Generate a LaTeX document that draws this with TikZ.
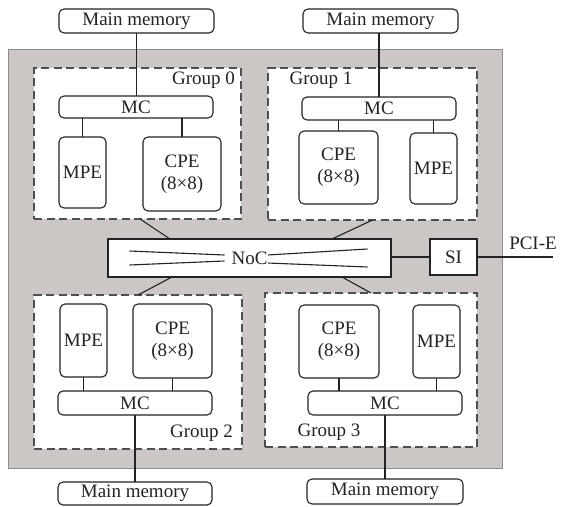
\documentclass[tikz,border=0pt]{standalone}
\usepackage{fontspec}
\setmainfont{Liberation Serif}
\usetikzlibrary{calc}
\definecolor{chip}{RGB}{204,199,196}
\definecolor{ink}{RGB}{35,35,35}
\begin{document}
\begin{tikzpicture}[x=1pt,y=-1pt,
  every node/.style={font=\fontsize{19}{22}\selectfont, text=ink, inner sep=0pt, outer sep=0pt},
  rbox/.style={draw=ink, fill=white, rounded corners=5pt, line width=1.1pt},
  sbox/.style={draw=ink, fill=white, line width=1.1pt},
  grp/.style={draw=ink!80, fill=white, dash pattern=on 8pt off 4.5pt, line width=1.1pt},
  wire/.style={draw=ink, line width=1.1pt}]
\useasboundingbox (0,0) rectangle (561,506);
% chip background
\node[fill=chip, draw=black!45, line width=1pt, minimum width=494pt, minimum height=419pt] (chip) at (255,258.5) {};
% groups
\node[grp, minimum width=207pt, minimum height=151pt] (G0) at (137.5,143.5) {};
\node[grp, minimum width=209pt, minimum height=152pt] (G1) at (372.5,144) {};
\node[grp, minimum width=208pt, minimum height=154pt] (G2) at (138,372) {};
\node[grp, minimum width=212pt, minimum height=154pt] (G3) at (371,370) {};
\node (L0) at (203.5,80) {Group 0};
\node (L1) at (321,80) {Group 1};
\node (L2) at (201.5,433) {Group 2};
\node (L3) at (329,432) {Group 3};
% main memories
\node[rbox, minimum width=155pt, minimum height=24pt] (MM0) at (136.5,21) {Main memory};
\node[rbox, minimum width=155pt, minimum height=24pt] (MM1) at (380.5,21) {Main memory};
\node[rbox, minimum width=154pt, minimum height=23pt] (MM2) at (135,493.5) {Main memory};
\node[rbox, minimum width=156pt, minimum height=25pt] (MM3) at (385,491.5) {Main memory};
% MCs
\node[rbox, minimum width=154pt, minimum height=22pt] (MC0) at (136,107) {MC};
\node[rbox, minimum width=154pt, minimum height=23pt] (MC1) at (379,108.5) {MC};
\node[rbox, minimum width=154pt, minimum height=24pt] (MC2) at (135,403) {MC};
\node[rbox, minimum width=154pt, minimum height=24pt] (MC3) at (385,403) {MC};
% MPEs
\node[rbox, minimum width=47pt, minimum height=71pt] (MPE0) at (82.5,172.5) {MPE};
\node[rbox, minimum width=47pt, minimum height=71pt] (MPE1) at (433.5,168.5) {MPE};
\node[rbox, minimum width=47pt, minimum height=73pt] (MPE2) at (83.5,340.5) {MPE};
\node[rbox, minimum width=47pt, minimum height=73pt] (MPE3) at (436.5,341.5) {MPE};
% CPEs
\node[rbox, align=center, minimum width=78pt, minimum height=74pt] (CPE0) at (182,174) {CPE\\(8×8)};
\node[rbox, align=center, minimum width=79pt, minimum height=73pt] (CPE1) at (338.5,167.5) {CPE\\(8×8)};
\node[rbox, align=center, minimum width=79pt, minimum height=74pt] (CPE2) at (172.5,341) {CPE\\(8×8)};
\node[rbox, align=center, minimum width=80pt, minimum height=73pt] (CPE3) at (339,341.5) {CPE\\(8×8)};
% NoC and SI
\node[sbox, minimum width=283pt, minimum height=38pt] (NoC) at (249.5,258) {};
\node[sbox, minimum width=47pt, minimum height=36pt] (SI) at (453.5,257) {SI};
\coordinate (pcie) at (553,257);
\node (PL) at (533,243) {PCI-E};
% NoC internal lines
\draw[wire] ($(NoC)+(-120,-7)$) -- ($(NoC)+(-25,-3)$);
\draw[wire] ($(NoC)+(-120,7)$) -- ($(NoC)+(-25,3)$);
\draw[wire] ($(NoC)+(18,-3)$) -- ($(NoC)+(118,-9)$);
\draw[wire] ($(NoC)+(18,5)$) -- ($(NoC)+(118,9)$);
\node[fill=white, inner xsep=1pt] (NoCt) at (NoC) {NoC};
% memory connections
\draw[wire] (MM0.south) -- (MM0.south |- MC0.north);
\draw[wire] (MM1.south -| MC1.north) -- (MC1.north);
\draw[wire] (MC2.south -| MM2.north) -- (MM2.north);
\draw[wire] (MC3.south) -- (MC3.south |- MM3.north);
% MC to PEs
\draw[wire] (MPE0.north) -- (MPE0.north |- MC0.south);
\draw[wire] (CPE0.north) -- (CPE0.north |- MC0.south);
\draw[wire] (CPE1.north) -- (CPE1.north |- MC1.south);
\draw[wire] (MPE1.north) -- (MPE1.north |- MC1.south);
\draw[wire] (MPE2.south) -- (MPE2.south |- MC2.north);
\draw[wire] (CPE2.south) -- (CPE2.south |- MC2.north);
\draw[wire] (CPE3.south) -- (CPE3.south |- MC3.north);
\draw[wire] (MPE3.south) -- (MPE3.south |- MC3.north);
% groups to NoC
\draw[wire] ([xshift=2.5pt]G0.south) -- ([xshift=-79.5pt]NoC.north);
\draw[wire] (G1.south) -- ([xshift=82.5pt]NoC.north);
\draw[wire] (G2.north) -- ([xshift=-77.5pt]NoC.south);
\draw[wire] (G3.north) -- ([xshift=92.5pt]NoC.south);
% NoC to SI to PCI-E
\draw[wire] (NoC.east |- SI.west) -- (SI.west);
\draw[wire] (SI.east) -- (pcie);
\end{tikzpicture}
\end{document}
